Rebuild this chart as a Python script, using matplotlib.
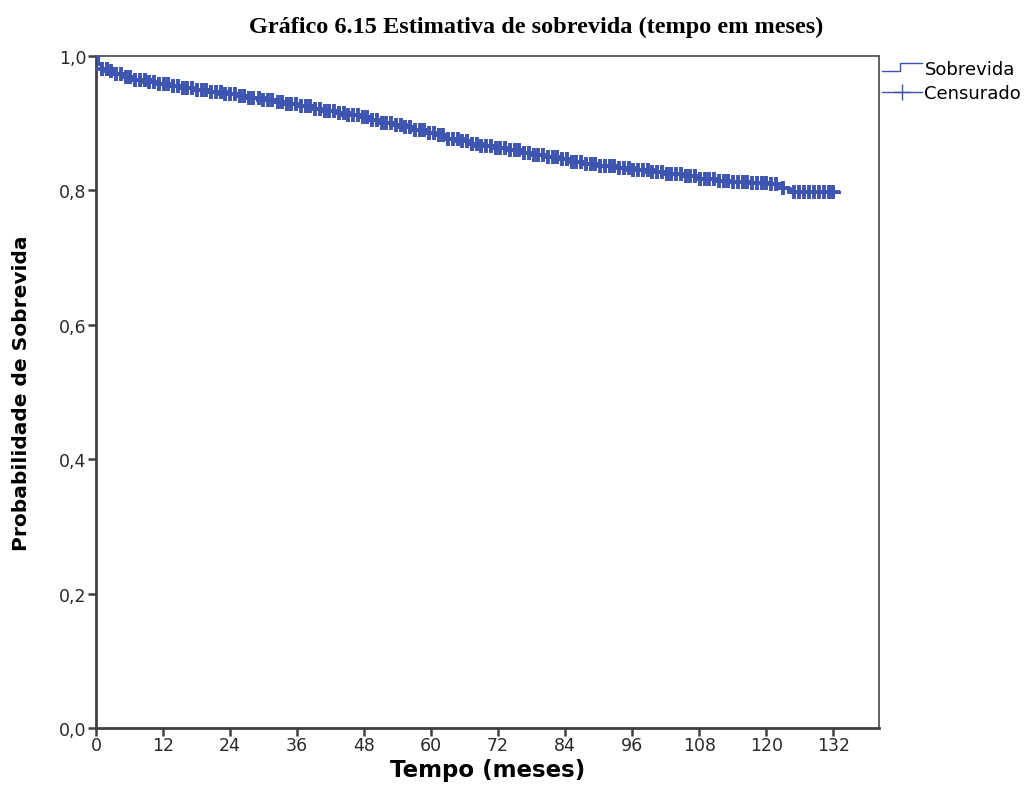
import matplotlib
matplotlib.use("Agg")
import numpy as np
import matplotlib.pyplot as plt
from matplotlib.lines import Line2D
from matplotlib.legend_handler import HandlerBase
from matplotlib.ticker import FuncFormatter

# Curva de Kaplan-Meier: tempos dos eventos (meses) e sobrevida acumulada
tempo_evento = [0, 0.4, 0.9, 2, 3.5, 5, 7, 9, 11, 13, 15.5, 18, 20, 22.5, 25, 27,
                29.5, 32, 34, 36.5, 39, 41, 43, 45, 47, 49, 51, 53, 55, 57, 59, 61,
                63, 65, 67, 69, 71, 73.5, 76, 78, 80.5, 83, 85, 87.5, 90, 93, 96,
                99, 102, 105, 107.5, 111, 114, 117, 120.5, 122, 124.3]
sobrevida = [1.000, 0.988, 0.981, 0.977, 0.973, 0.969, 0.965, 0.962, 0.959, 0.956,
             0.952, 0.949, 0.946, 0.943, 0.940, 0.937, 0.934, 0.931, 0.928, 0.925,
             0.921, 0.918, 0.915, 0.912, 0.909, 0.905, 0.901, 0.898, 0.894, 0.890,
             0.886, 0.882, 0.877, 0.873, 0.869, 0.866, 0.863, 0.860, 0.856, 0.853,
             0.850, 0.847, 0.843, 0.839, 0.836, 0.833, 0.830, 0.827, 0.824, 0.821,
             0.817, 0.814, 0.812, 0.811, 0.809, 0.804, 0.798]
tempo_final = 133.0

# Tempos censurados (meses)
tempo_censura = [1.0, 1.9, 2.7, 3.6, 4.4, 5.3, 6.1, 7.0, 7.8, 8.7, 9.5, 10.4, 11.2,
                 12.1, 12.9, 13.8, 14.6, 15.5, 16.3, 17.2, 18.0, 18.9, 19.7, 20.6,
                 21.4, 22.3, 23.1, 24.0, 24.8, 25.7, 26.5, 27.4, 28.2, 29.1, 29.9,
                 30.8, 31.6, 32.5, 33.3, 34.2, 35.0, 35.9, 36.7, 37.6, 38.4, 39.3,
                 40.1, 41.0, 41.8, 42.7, 43.5, 44.4, 45.2, 46.1, 46.9, 47.8, 48.6,
                 49.5, 50.3, 51.2, 52.0, 52.9, 53.7, 54.6, 55.4, 56.3, 57.1, 58.0,
                 58.8, 59.7, 60.5, 61.4, 62.2, 63.1, 63.9, 64.8, 65.6, 66.5, 67.3,
                 68.2, 69.0, 69.9, 70.7, 71.6, 72.4, 73.3, 74.1, 75.0, 75.8, 76.7,
                 77.5, 78.4, 79.2, 80.1, 80.9, 81.8, 82.6, 83.5, 84.3, 85.2, 86.0,
                 86.9, 87.7, 88.6, 89.4, 90.3, 91.1, 92.0, 92.8, 93.7, 94.5, 95.4,
                 96.2, 97.1, 97.9, 98.8, 99.6, 100.5, 101.3, 102.2, 103.0, 103.9,
                 104.7, 105.6, 106.4, 107.3, 108.1, 109.0, 109.8, 110.7, 111.5,
                 112.4, 113.2, 114.1, 114.9, 115.8, 116.6, 117.5, 118.3, 119.2,
                 120.0, 120.9, 121.7, 123.0, 124.9, 125.8, 126.7, 127.6, 128.5,
                 129.4, 130.3, 131.2, 131.9]

azul = "#3d55b0"
eixo = "#404040"

plt.rcParams["font.family"] = ["DejaVu Sans"]

fig = plt.figure(figsize=(10.27, 8.03), dpi=100)
ax = fig.add_axes([96 / 1027, 1 - 729 / 803, (879 - 96) / 1027, (729 - 57) / 803])

# Curva em escada
xs = list(tempo_evento) + [tempo_final]
ys = list(sobrevida) + [sobrevida[-1]]
ax.step(xs, ys, where="post", color=azul, lw=2.2, zorder=3)

# Marcas de censura sobre a curva
idx = np.searchsorted(tempo_evento, tempo_censura, side="right") - 1
y_censura = np.array(sobrevida)[idx]
ax.plot(tempo_censura, y_censura, ls="none", marker="+", ms=9.5, mew=2.8,
        color=azul, zorder=4)

ax.set_xlim(0, 140.2)
ax.set_ylim(0, 1.0)
ax.set_xticks(np.arange(0, 133, 12))
ax.set_yticks(np.arange(0, 1.01, 0.2))
ax.yaxis.set_major_formatter(FuncFormatter(lambda v, p: f"{v:.1f}".replace(".", ",")))

for s in ["left", "bottom"]:
    ax.spines[s].set_color(eixo)
    ax.spines[s].set_linewidth(2.0)
for s in ["top", "right"]:
    ax.spines[s].set_color("#555555")
    ax.spines[s].set_linewidth(1.3)
ax.tick_params(direction="out", length=6, width=1.8, color=eixo,
               labelsize=12.5, labelcolor="#2a2a2a", pad=1)
ax.tick_params(axis="x", pad=0)

ax.set_xlabel("Tempo (meses)", fontsize=16.5, fontweight="bold", labelpad=3)
ax.set_ylabel("Probabilidade de Sobrevida", fontsize=14.5, fontweight="bold",
              labelpad=20)
fig.text(536 / 1027, 1 - 27 / 803, "Gráfico 6.15 Estimativa de sobrevida (tempo em meses)",
         ha="center", va="center", fontsize=17.5, fontweight="bold",
         family="Liberation Serif")


class HandlerDegrau(HandlerBase):
    # desenha o símbolo de escada da legenda
    def create_artists(self, legend, orig, xd, yd, w, h, fontsize, trans):
        x = [xd, xd + 0.45 * w, xd + 0.45 * w, xd + w]
        y = [yd + 0.2 * h, yd + 0.2 * h, yd + 0.85 * h, yd + 0.85 * h]
        ln = Line2D(x, y, color=azul, lw=1.0, transform=trans)
        return [ln]


h_sob = Line2D([], [], color=azul)
h_cen = Line2D([], [], color=azul, lw=1.0, marker="+", ms=12, mew=1.0)
fig.legend([h_sob, h_cen], ["Sobrevida", "Censurado"],
           handler_map={h_sob: HandlerDegrau()},
           loc="upper left", bbox_to_anchor=(882 / 1027, 1 - 61 / 803),
           frameon=False, fontsize=13, handlelength=2.2, handletextpad=0.15,
           borderpad=0, borderaxespad=0, labelspacing=0.35)

fig.savefig("out.png", dpi=100)
